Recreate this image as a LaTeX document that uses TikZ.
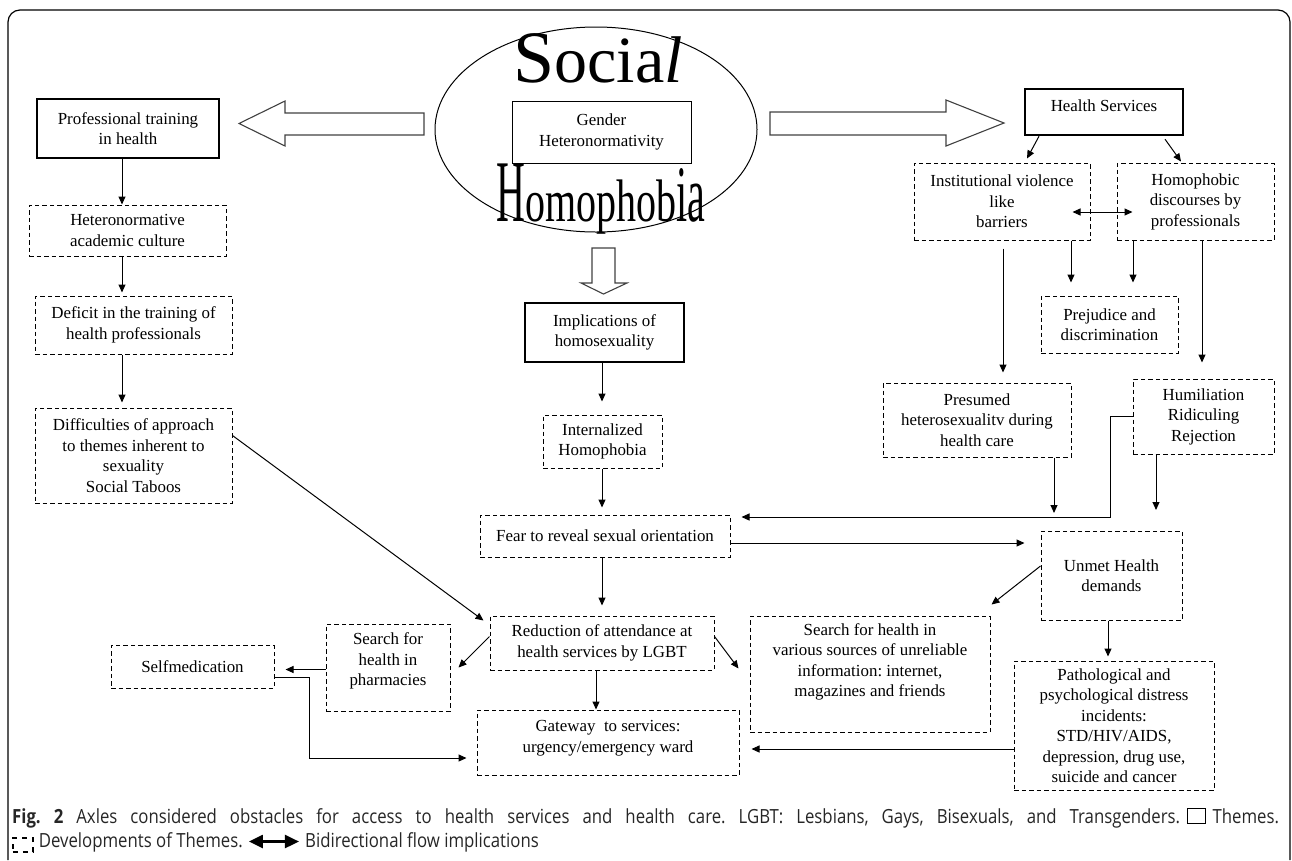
\documentclass[tikz,border=0pt]{standalone}
\usepackage{graphicx}
\usepackage{fontspec}
\setmainfont{Liberation Serif}
\newfontfamily\capfont[FakeStretch=0.86]{Open Sans}
\usetikzlibrary{arrows.meta,shapes.geometric,calc}
\newcommand\msz{\fontsize{16.9pt}{20.5pt}\selectfont}
\begin{document}
\frenchspacing
\begin{tikzpicture}[x=1pt,y=-1pt,
  thm/.style={draw=black, line width=2.4pt, align=center, font=\msz, inner sep=0pt},
  dev/.style={draw=black, line width=1pt, dash pattern=on 4.5pt off 3pt, align=center, font=\msz, inner sep=0pt},
  txt/.style={align=center, font=\msz, inner sep=0pt},
  arr/.style={-{Triangle[length=8pt,width=7pt]}, line width=1pt},
  blk/.style={draw=black!75, line width=1.1pt, line join=miter},
  capt/.style={font=\capfont\fontsize{19.5pt}{22pt}\selectfont, inner sep=0pt, text=black!85},
]
\useasboundingbox (0,0) rectangle (1292,860);
% frame
\draw[line width=1.2pt, rounded corners=12pt] (8,860) -- (8,10) -- (1290,10) -- (1290,860);

% ---------- central theme ----------
\node[draw, ellipse, line width=1pt, minimum width=322pt, minimum height=205pt] (soc) at (596,129.5) {};
\node[anchor=base, inner sep=0pt, font=\fontsize{66pt}{66pt}\selectfont] (social) at (598,82) {\scalebox{1.12}{S}ocia\textit{l}};
\node[draw, line width=1pt, minimum width=179pt, minimum height=62pt, align=center, font=\msz, inner sep=0pt] (gen) at (601.5,132) {Gender\\Heteronormativity};
\node[anchor=base, inner sep=0pt, font=\fontsize{40pt}{40pt}\selectfont] (hph) at (601,221) {\scalebox{1}[2.2]{H}\scalebox{1}[1.5]{omophob}\scalebox{1}[2]{ia}};

% block arrows
\draw[blk] (424,113) -- (285,113) -- (285,101) -- (239,123.5) -- (285,146) -- (285,135) -- (424,135) -- cycle;
\draw[blk] (770,112) -- (946,112) -- (946,100) -- (1004,123) -- (946,146) -- (946,135) -- (770,135) -- cycle;
\draw[blk] (592,248) -- (592,283) -- (581,283) -- (603.5,294) -- (627,283) -- (615,283) -- (615,248) -- cycle;

% ---------- left column ----------
\node[thm, minimum width=182pt, minimum height=59pt] (prof) at (128,128.5) {Professional training\\in health};
\node[dev, minimum width=197pt, minimum height=51pt] (hac) at (127.5,230.5) {Heteronormative\\academic culture};
\node[dev, minimum width=197pt, minimum height=58pt] (def) at (133.5,325) {Deficit in the training of\\health professionals};
\node[dev, minimum width=197pt, minimum height=95pt] (dif) at (133.5,455.5) {Difficulties of approach\\to themes inherent to\\sexuality\\Social Taboos};

% ---------- centre column ----------
\node[thm, minimum width=159pt, minimum height=59pt] (imp) at (604.5,332.5) {Implications of\\homosexuality};
\node[dev, minimum width=119pt, minimum height=53pt] (int) at (602.5,441.5) {Internalized\\Homophobia};
\node[dev, minimum width=250pt, minimum height=42pt] (fear) at (605,536) {Fear to reveal sexual orientation};
\node[dev, minimum width=224pt, minimum height=54pt] (red) at (602,643) {Reduction of attendance at\\health services by LGBT};
\node[dev, minimum width=124pt, minimum height=87pt] (pha) at (388,667.5) {};
\node[txt] (phat) at (388,661) {Search for\\health in\\pharmacies};
\node[dev, minimum width=163pt, minimum height=43pt] (self) at (192.5,666.5) {Selfmedication};
\node[dev, minimum width=262pt, minimum height=65pt] (gate) at (608,742.5) {};
\node[txt] (gatet) at (608,738) {Gateway\ \ to services:\\urgency/emergency ward};
\node[dev, minimum width=240pt, minimum height=116pt] (sv) at (870,674) {};
\node[txt] (svt) at (870,662) {Search for health in\\various sources of unreliable\\information: internet,\\magazines and friends};

% ---------- right column ----------
\node[thm, minimum width=158pt, minimum height=46pt] (hs) at (1104,112) {};
\node[txt] (hst) at (1104,106) {Health Services};
\node[dev, minimum width=176pt, minimum height=77pt] (ins) at (1002,201.5) {Institutional violence\\like\\barriers};
\node[dev, minimum width=157pt, minimum height=77pt] (hom) at (1195.5,201.5) {Homophobic\\discourses by\\professionals};
\node[dev, minimum width=137pt, minimum height=57pt] (pre) at (1109.5,324.5) {Prejudice and\\discrimination};
\node[dev, minimum width=188pt, minimum height=74pt] (pres) at (977,420) {Presumed\\heterosexualitv during\\health care};
\node[dev, minimum width=141pt, minimum height=75pt] (hum) at (1203.5,416.5) {Humiliation\\Ridiculing\\Rejection};
\node[dev, minimum width=141pt, minimum height=89pt] (unm) at (1111.5,575.5) {Unmet Health\\demands};
\node[dev, minimum width=200pt, minimum height=129pt] (pat) at (1114,725.5) {Pathological and\\psychological distress\\incidents:\\STD/HIV/AIDS,\\depression, drug use,\\suicide and cancer};

% ---------- helper coordinates ----------
\coordinate (xL) at (122,0);
\coordinate (xC) at (602,0);
\coordinate (xC2) at (596,0);
\coordinate (xE) at (309,0);
\coordinate (xI) at (1003,0);
\coordinate (xP1) at (1071,0);
\coordinate (xP2) at (1133,0);
\coordinate (xHm) at (1202,0);
\coordinate (xH) at (1110,0);
\coordinate (xPr) at (1054,0);
\coordinate (xU) at (1108,0);
\coordinate (yF) at (0,517);
\coordinate (hd) at (1156,510);

% ---------- connectors ----------
\draw[arr] (prof.south -| xL) -- (hac.north -| xL);
\draw[arr, shorten >=3pt] (hac.south -| xL) -- (def.north -| xL);
\draw[arr, shorten >=5pt] (def.south -| xL) -- (dif.north -| xL);
\draw[arr] ([yshift=-28pt]dif.north east) -- ([xshift=-6pt,yshift=-5pt]red.north west);

\draw[arr, shorten >=13pt] (imp.south -| xC) -- (int.north -| xC);
\draw[arr, shorten >=7pt] (int.south -| xC) -- (fear.north -| xC);
\draw[arr, shorten >=10pt] (fear.south -| xC) -- (red.north -| xC);
\draw[arr] (red.south -| xC2) -- (gate.north -| xC2);
\draw[arr] ([yshift=-21pt]red.north west) -- ([xshift=8pt,yshift=-44pt]pha.north east);
\draw[arr] ([yshift=-21pt]red.north east) -- ([xshift=-11pt,yshift=-53pt]sv.north west);
\coordinate (p1) at ([yshift=-46pt]pha.north west);
\draw[arr, shorten >=11pt] (p1) -- (p1 -| self.east);
\coordinate (s1) at ([yshift=-33pt]self.north east);
\coordinate (g1) at ([yshift=-15.5pt]gate.west);
\draw[arr, shorten >=10pt] (s1) -- (s1 -| xE) -- (g1 -| xE) -- (g1);

\draw[arr] ([xshift=-65pt]hs.south) -- ([xshift=25pt,yshift=4pt]ins.north);
\draw[arr] ([xshift=61pt,yshift=-3pt]hs.south) -- ([xshift=-14.5pt,yshift=1pt]hom.north);
\draw[{Triangle[length=8pt,width=7pt]}-{Triangle[length=8pt,width=7pt]}, line width=1pt] ([xshift=-18pt,yshift=-10.5pt]ins.east) -- ([xshift=16pt,yshift=-10.5pt]hom.west);
\draw[arr, shorten <=8pt, shorten >=10pt] (ins.south -| xI) -- (pres.north -| xI);
\draw[arr, shorten >=13pt] (ins.south -| xP1) -- (pre.north -| xP1);
\draw[arr, shorten >=13pt] (hom.south -| xP2) -- (pre.north -| xP2);
\draw[arr, shorten >=16pt] (hom.south -| xHm) -- (hum.north -| xHm);
\draw[arr, shorten >=11pt] (hum.west) -- (hum.west -| xH) -- (xH |- yF) -- (fear.east |- yF);
\draw[arr, shorten >=4pt] (pres.south -| xPr) -- (yF -| xPr);
\draw[arr] (hum.south -| hd) -- (hd);
\coordinate (f1) at ([yshift=-7pt]fear.east);
\draw[arr, shorten >=16pt] (f1) -- (f1 -| unm.west);
\draw[arr] ([yshift=9.5pt]unm.west) -- ([xshift=1pt,yshift=11pt]sv.north east);
\draw[arr, shorten >=4pt] (unm.south -| xU) -- (pat.north -| xU);
\coordinate (pt1) at ([yshift=-23.5pt]pat.west);
\draw[arr, shorten >=12pt] (pt1) -- (pt1 -| gate.east);

% ---------- caption ----------
\node[capt, anchor=base west] (cap1) at (12,823) {\makebox[1168pt][s]{\textbf{Fig. 2} Axles considered obstacles for access to health services and health care. LGBT: Lesbians, Gays, Bisexuals, and Transgenders.}};
\node[draw, line width=1pt, minimum width=18pt, minimum height=15pt, inner sep=0pt, anchor=south west] (capbox) at ([xshift=7pt,yshift=-1pt]cap1.base east) {};
\node[capt, anchor=base west, xshift=6pt] (cap1b) at (capbox.east |- cap1.base) {Themes.};
\coordinate (yc2) at (0,847);
\node[draw, line width=1.6pt, dash pattern=on 5pt off 5pt, minimum width=20pt, minimum height=14pt, inner sep=0pt, anchor=south west] (capd) at (12,853) {};
\node[capt, anchor=base west, xshift=5pt] (cap2) at (capd.east |- yc2) {Developments of Themes.};
\coordinate (da1) at ([xshift=6pt,yshift=5.5pt]cap2.base east);
\coordinate (da2) at ([xshift=56pt,yshift=5.5pt]cap2.base east);
\draw[{Triangle[length=14pt,width=13pt]}-{Triangle[length=14pt,width=13pt]}, line width=2.5pt] (da1) -- (da2);
\node[capt, anchor=base west, xshift=6pt] (cap3) at (da2 |- cap2.base) {Bidirectional flow implications};
\end{tikzpicture}
\end{document}
